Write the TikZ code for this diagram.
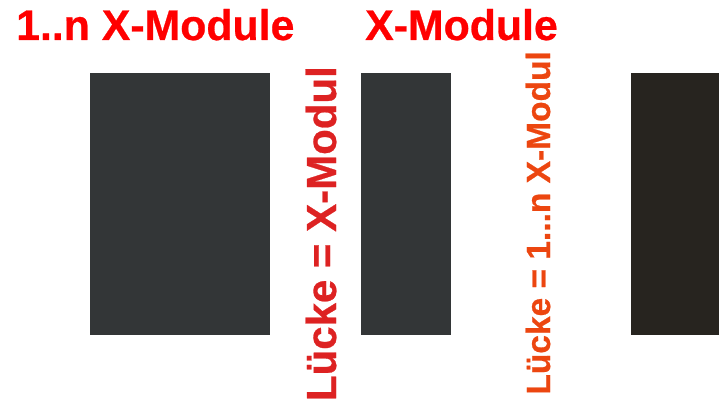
\documentclass[tikz,border=0pt]{standalone}
\usepackage{fontspec}
\setmainfont{Liberation Sans}
\newfontfamily\heavyfont{Liberation Sans Bold}[FakeBold=0.6]
\definecolor{titlered}{RGB}{255,0,0}
\definecolor{gapred}{RGB}{221,34,34}
\definecolor{gaporange}{RGB}{236,70,16}
\definecolor{moduledark}{RGB}{51,54,55}
\definecolor{moduleblack}{RGB}{39,36,31}
\tikzset{
  title/.style={text=titlered, inner sep=0pt, font=\heavyfont\fontsize{42.8}{50}\selectfont},
  gaplabel/.style={inner sep=0pt, rotate=90, anchor=base east},
  module/.style={draw=none, inner sep=0pt, anchor=north west}
}
\begin{document}
\begin{tikzpicture}[x=1pt, y=-1pt]
  \useasboundingbox (0,0) rectangle (719,401);
  \clip (0,0) rectangle (719,401);
  % module blocks
  \node[module, fill=moduledark, minimum width=180pt, minimum height=262pt] (m1) at (90,73) {};
  \node[module, fill=moduledark, minimum width=90pt, minimum height=262pt] (m2) at (361,73) {};
  \node[module, fill=moduleblack, minimum width=95pt, minimum height=262pt] (m3) at (631,73) {};
  % headings
  \node[title, anchor=base west] (h1) at (16,40) {1..n X-Module};
  \node[title, anchor=base west] (h2) at (365,40) {X-Module};
  % vertical gap labels
  \node[gaplabel, text=gapred, font=\heavyfont\fontsize{42}{50}\selectfont] (g1) at (336,66) {Lücke = X-Modul};
  \node[gaplabel, text=gaporange, font=\heavyfont\fontsize{33.5}{40}\selectfont] (g2) at (550,51) {Lücke = 1...n X-Modul};
\end{tikzpicture}
\end{document}
